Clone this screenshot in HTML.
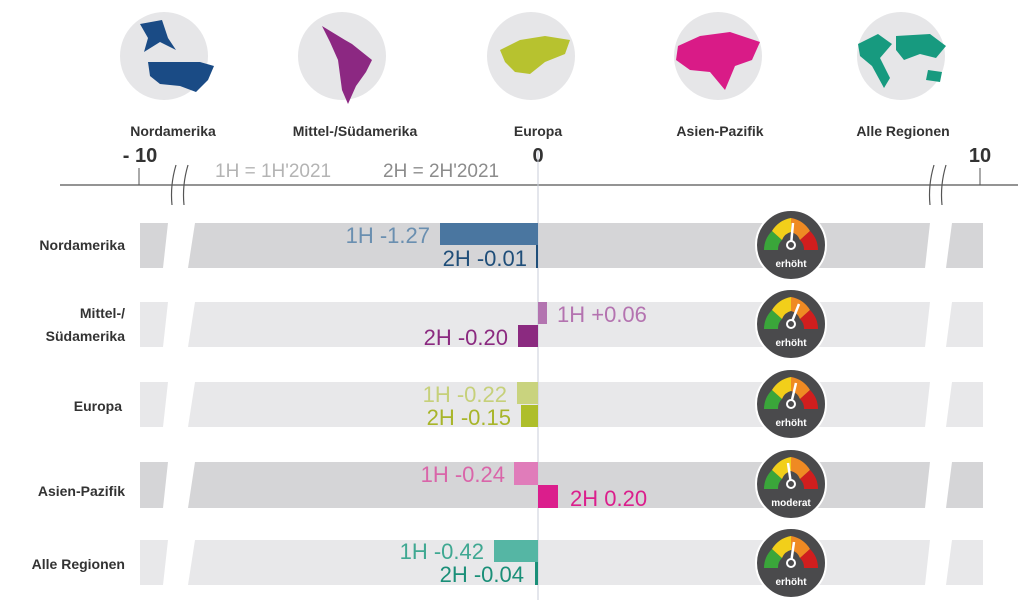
<!DOCTYPE html>
<html><head><meta charset="utf-8"><style>
html,body{margin:0;padding:0;background:#fff;}
body{width:1024px;height:608px;overflow:hidden;font-family:"Liberation Sans",sans-serif;}
</style></head><body>
<svg width="1024" height="608" viewBox="0 0 1024 608" xmlns="http://www.w3.org/2000/svg" font-family="Liberation Sans, sans-serif">
<defs>
<g id="gauge">
<circle r="35" fill="#4a4a4c" stroke="#fff" stroke-width="2"/>
<path d="M-27,5 A27,27 0 0 1 -19,-14 L-9,-5 A13,13 0 0 0 -13,5 Z" fill="#3aa63a"/>
<path d="M-19,-14 A27,27 0 0 1 0,-27 L0,-13 A13,13 0 0 0 -9,-5 Z" fill="#f2cf1a"/>
<path d="M0,-27 A27,27 0 0 1 19,-14 L9,-5 A13,13 0 0 0 0,-13 Z" fill="#ef8a23"/>
<path d="M19,-14 A27,27 0 0 1 27,5 L13,5 A13,13 0 0 0 9,-5 Z" fill="#d01e1e"/>
</g>
</defs>
<!-- top circles -->
<g fill="#e6e6e8">
<circle cx="164" cy="56" r="44"/><circle cx="342" cy="56" r="44"/><circle cx="531" cy="56" r="44"/><circle cx="718" cy="56" r="44"/><circle cx="901" cy="56" r="44"/>
</g>
<path d="M140,24 L162,20 L168,38 L176,50 L160,42 L144,52 L148,38 Z" fill="#1a4b85"/>
<path d="M148,62 L200,62 L214,66 L208,80 L196,92 L180,86 L160,84 L150,76 Z" fill="#1a4b85"/>
<path d="M322,26 L345,40 L352,44 L372,60 L366,72 L356,86 L348,104 L342,90 L338,60 L330,42 Z" fill="#8c2882"/>
<path d="M500,50 L520,40 L545,36 L570,40 L565,54 L545,62 L530,74 L515,72 L505,62 Z" fill="#b7c22f"/>
<path d="M678,46 L700,36 L730,32 L760,42 L752,60 L735,66 L725,90 L710,72 L690,70 L676,60 Z" fill="#d91b87"/>
<path d="M858,44 L878,34 L892,44 L880,58 L890,78 L884,88 L872,66 L860,56 Z M896,36 L930,34 L946,46 L936,58 L920,54 L904,60 L896,50 Z M928,70 L942,72 L940,82 L926,80 Z" fill="#179a7f"/>
<g font-size="14" font-weight="bold" fill="#333" text-anchor="middle">
<text x="173" y="136">Nordamerika</text><text x="355" y="136">Mittel-/Südamerika</text><text x="538" y="136">Europa</text><text x="720" y="136">Asien-Pazifik</text><text x="903" y="136">Alle Regionen</text>
</g>
<!-- axis -->
<g font-size="20" font-weight="bold" fill="#333" text-anchor="middle">
<text x="140" y="162">- 10</text><text x="538" y="162">0</text><text x="980" y="162">10</text>
</g>
<line x1="60" y1="185" x2="1018" y2="185" stroke="#555" stroke-width="1.3"/>
<line x1="139" y1="168" x2="139" y2="185" stroke="#555"/>
<line x1="980" y1="168" x2="980" y2="185" stroke="#555"/>
<text x="215" y="177" font-size="19" fill="#b4b4b4">1H = 1H'2021</text>
<text x="383" y="177" font-size="19" fill="#8c8c8c">2H = 2H'2021</text>
<!-- row bands -->
<g>
<path d="M140,223 H168 L163,268 H140 Z M195,223 H930 L925,268 H188 Z M952,223 H983 V268 H946 Z" fill="#d5d5d7"/>
<path d="M140,302 H168 L163,347 H140 Z M195,302 H930 L925,347 H188 Z M952,302 H983 V347 H946 Z" fill="#e8e8ea"/>
<path d="M140,382 H168 L163,427 H140 Z M195,382 H930 L925,427 H188 Z M952,382 H983 V427 H946 Z" fill="#e8e8ea"/>
<path d="M140,462 H168 L163,508 H140 Z M195,462 H930 L925,508 H188 Z M952,462 H983 V508 H946 Z" fill="#d5d5d7"/>
<path d="M140,540 H168 L163,585 H140 Z M195,540 H930 L925,585 H188 Z M952,540 H983 V585 H946 Z" fill="#e8e8ea"/>
</g>
<!-- break marks -->
<g stroke="#555" fill="none" stroke-width="1.2">
<path d="M176,165 Q170,185 172,205"/><path d="M188,165 Q182,185 184,205"/>
<path d="M934,165 Q928,185 930,205"/><path d="M946,165 Q940,185 942,205"/>
</g>
<line x1="538" y1="150" x2="538" y2="600" stroke="#c8cdd8" stroke-width="1"/>
<!-- row labels -->
<g font-size="14" font-weight="bold" fill="#333" text-anchor="end">
<text x="125" y="250">Nordamerika</text>
<text x="125" y="318">Mittel-/</text><text x="125" y="341">Südamerika</text>
<text x="122" y="411">Europa</text>
<text x="125" y="496">Asien-Pazifik</text>
<text x="125" y="569">Alle Regionen</text>
</g>
<!-- bars -->
<rect x="440" y="223" width="98" height="22" fill="#4a76a0"/>
<rect x="536" y="245" width="2" height="23" fill="#1f4e79"/>
<rect x="538" y="302" width="9" height="22" fill="#b374b0"/>
<rect x="518" y="325" width="20" height="22" fill="#8b2a80"/>
<rect x="517" y="382" width="21" height="22" fill="#c9d37e"/>
<rect x="521" y="405" width="17" height="22" fill="#aebe2a"/>
<rect x="514" y="462" width="24" height="23" fill="#e07cba"/>
<rect x="538" y="485" width="20" height="23" fill="#db1e8c"/>
<rect x="494" y="540" width="44" height="22" fill="#55b6a4"/>
<rect x="535" y="562" width="3" height="23" fill="#1a8f78"/>
<!-- values -->
<g font-size="22">
<text x="430" y="243" text-anchor="end" fill="#6a8fb0">1H -1.27</text>
<text x="527" y="266" text-anchor="end" fill="#1f4e79">2H -0.01</text>
<text x="557" y="322" fill="#b473b0">1H +0.06</text>
<text x="508" y="345" text-anchor="end" fill="#8b2a80">2H -0.20</text>
<text x="507" y="402" text-anchor="end" fill="#c6d07a">1H -0.22</text>
<text x="511" y="425" text-anchor="end" fill="#a8b52a">2H -0.15</text>
<text x="505" y="482" text-anchor="end" fill="#d965a9">1H -0.24</text>
<text x="570" y="506" fill="#db1e8c">2H 0.20</text>
<text x="484" y="559" text-anchor="end" fill="#3fa892">1H -0.42</text>
<text x="524" y="582" text-anchor="end" fill="#1a8f78">2H -0.04</text>
</g>
<!-- gauges -->
<g font-size="10" font-weight="bold" fill="#fff" text-anchor="middle">
<g transform="translate(791,245)"><use href="#gauge"/><line x1="0" y1="0" x2="2" y2="-22" stroke="#fff" stroke-width="2.5"/><circle r="4" fill="#4a4a4c" stroke="#fff" stroke-width="2"/><text y="22">erhöht</text></g>
<g transform="translate(791,324)"><use href="#gauge"/><line x1="0" y1="0" x2="8" y2="-20" stroke="#fff" stroke-width="2.5"/><circle r="4" fill="#4a4a4c" stroke="#fff" stroke-width="2"/><text y="22">erhöht</text></g>
<g transform="translate(791,404)"><use href="#gauge"/><line x1="0" y1="0" x2="5" y2="-21" stroke="#fff" stroke-width="2.5"/><circle r="4" fill="#4a4a4c" stroke="#fff" stroke-width="2"/><text y="22">erhöht</text></g>
<g transform="translate(791,484)"><use href="#gauge"/><line x1="0" y1="0" x2="-3" y2="-21" stroke="#fff" stroke-width="2.5"/><circle r="4" fill="#4a4a4c" stroke="#fff" stroke-width="2"/><text y="22">moderat</text></g>
<g transform="translate(791,563)"><use href="#gauge"/><line x1="0" y1="0" x2="3" y2="-21" stroke="#fff" stroke-width="2.5"/><circle r="4" fill="#4a4a4c" stroke="#fff" stroke-width="2"/><text y="22">erhöht</text></g>
</g>
</svg>
</body></html>
